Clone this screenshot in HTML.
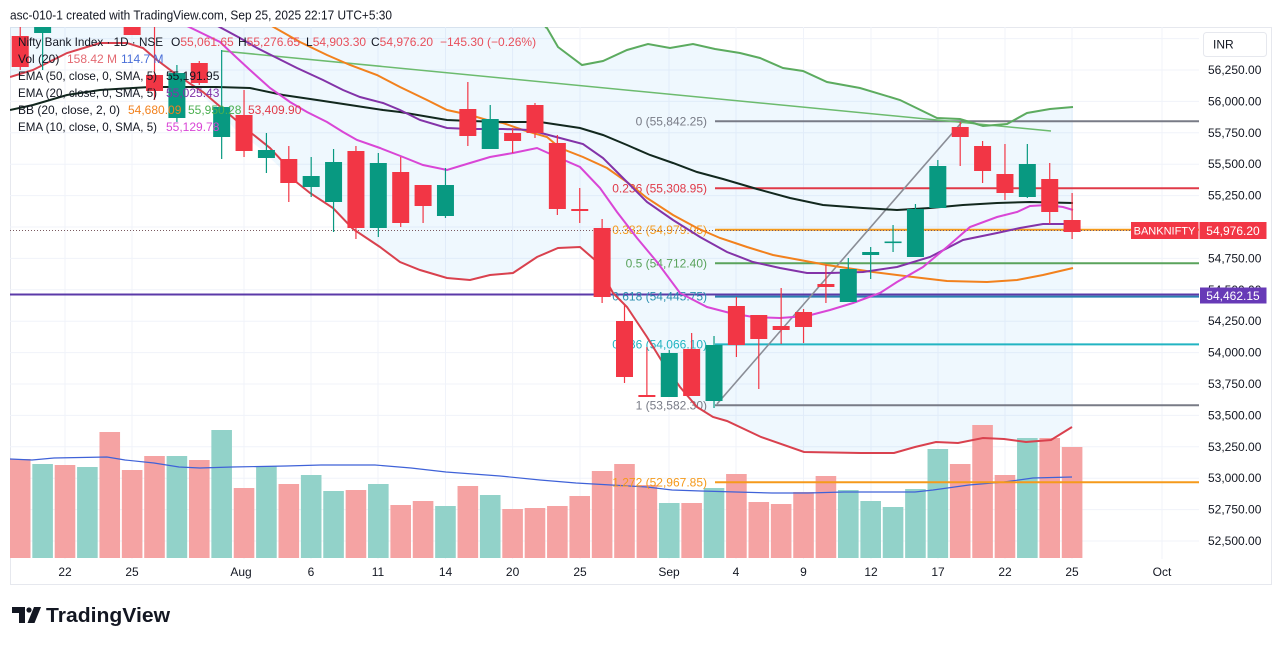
<!DOCTYPE html>
<html><head><meta charset="utf-8">
<style>
html,body{margin:0;padding:0;background:#fff;}
svg{display:block;font-family:"Liberation Sans",Arial,sans-serif;}
</style></head>
<body>
<svg width="1281" height="646" viewBox="0 0 1281 646" xmlns="http://www.w3.org/2000/svg">
<defs>
<clipPath id="plot"><rect x="10" y="27" width="1189" height="532"/></clipPath>
</defs>
<rect x="0" y="0" width="1281" height="646" fill="#fff"/>
<text x="10" y="19.5" font-size="12.5" fill="#131722" textLength="382" lengthAdjust="spacingAndGlyphs">asc-010-1 created with TradingView.com, Sep 25, 2025 22:17 UTC+5:30</text>
<rect x="10.5" y="27.5" width="1261" height="557" fill="none" stroke="#e6e8ee"/>
<g stroke="#f0f3fa" stroke-width="1">
<line x1="10" y1="38.6" x2="1199" y2="38.6"/><line x1="10" y1="70" x2="1199" y2="70"/><line x1="10" y1="101.4" x2="1199" y2="101.4"/><line x1="10" y1="132.8" x2="1199" y2="132.8"/><line x1="10" y1="164.2" x2="1199" y2="164.2"/><line x1="10" y1="195.6" x2="1199" y2="195.6"/><line x1="10" y1="227" x2="1199" y2="227"/><line x1="10" y1="258.4" x2="1199" y2="258.4"/><line x1="10" y1="289.8" x2="1199" y2="289.8"/><line x1="10" y1="321.2" x2="1199" y2="321.2"/><line x1="10" y1="352.6" x2="1199" y2="352.6"/><line x1="10" y1="384" x2="1199" y2="384"/><line x1="10" y1="415.4" x2="1199" y2="415.4"/><line x1="10" y1="446.8" x2="1199" y2="446.8"/><line x1="10" y1="478.2" x2="1199" y2="478.2"/><line x1="10" y1="509.6" x2="1199" y2="509.6"/><line x1="10" y1="541" x2="1199" y2="541"/>
<line x1="65" y1="27" x2="65" y2="559"/><line x1="132" y1="27" x2="132" y2="559"/><line x1="244" y1="27" x2="244" y2="559"/><line x1="311" y1="27" x2="311" y2="559"/><line x1="378" y1="27" x2="378" y2="559"/><line x1="445.5" y1="27" x2="445.5" y2="559"/><line x1="512.6" y1="27" x2="512.6" y2="559"/><line x1="580" y1="27" x2="580" y2="559"/><line x1="669" y1="27" x2="669" y2="559"/><line x1="736" y1="27" x2="736" y2="559"/><line x1="803.5" y1="27" x2="803.5" y2="559"/><line x1="871" y1="27" x2="871" y2="559"/><line x1="938" y1="27" x2="938" y2="559"/><line x1="1005" y1="27" x2="1005" y2="559"/><line x1="1072" y1="27" x2="1072" y2="559"/><line x1="1162" y1="27" x2="1162" y2="559"/>
</g>
<g clip-path="url(#plot)">
<polygon fill="#2196f3" fill-opacity="0.07" points="10,27 545,27 558,47 582,65 603,61 627,50 648,44 670,48 693,44 715,49 740,53 760,58 783,68 803,71 827,82 860,88 900,100 937,118 960,119 983,126 1007,124 1027,113 1050,109 1073,107 1073,427 1051,440 1026,442 1004,439 983,438 958,443 936,442 915,447 894,453 861,453 804,452 761,437 727,421 713,417 697,407 680,387 663,363 647,337 627,307 613,293 595,260 580,247 558,248 537,257 513,273 490,275 470,280 447,278 420,270 400,262 380,247 353,229 333,208 310,193 290,177 270,158 262,150 253,143 240,135 227,120 207,100 187,83 173,75 157,60 143,48 127,43 100,43 67,53 33,70 10,77"/>
<g fill="#f5a3a3">
<rect x="10" y="459" width="20.5" height="99"/><rect x="54.7" y="465" width="20.6" height="93"/><rect x="99.46" y="432" width="20.6" height="126"/><rect x="121.84" y="470" width="20.6" height="88"/><rect x="144.22" y="456" width="20.6" height="102"/><rect x="188.98" y="460" width="20.6" height="98"/><rect x="233.74" y="488" width="20.6" height="70"/><rect x="278.5" y="484" width="20.6" height="74"/><rect x="345.64" y="490" width="20.6" height="68"/><rect x="390.4" y="505" width="20.6" height="53"/><rect x="412.78" y="501" width="20.6" height="57"/><rect x="457.54" y="486" width="20.6" height="72"/><rect x="502.3" y="509" width="20.6" height="49"/><rect x="524.68" y="508" width="20.6" height="50"/><rect x="547.06" y="506" width="20.6" height="52"/><rect x="569.44" y="496" width="20.6" height="62"/><rect x="591.82" y="471" width="20.6" height="87"/><rect x="614.2" y="464" width="20.6" height="94"/><rect x="636.58" y="485" width="20.6" height="73"/><rect x="681.34" y="503" width="20.6" height="55"/><rect x="726.1" y="474" width="20.6" height="84"/><rect x="748.48" y="502" width="20.6" height="56"/><rect x="770.86" y="504" width="20.6" height="54"/><rect x="793.24" y="492" width="20.6" height="66"/><rect x="815.62" y="476" width="20.6" height="82"/><rect x="949.9" y="464" width="20.6" height="94"/><rect x="972.28" y="425" width="20.6" height="133"/><rect x="994.66" y="475" width="20.6" height="83"/><rect x="1039.42" y="438" width="20.6" height="120"/><rect x="1061.8" y="447" width="20.6" height="111"/>
</g>
<g fill="#92d2c9">
<rect x="32.32" y="464" width="20.6" height="94"/><rect x="77.08" y="467" width="20.6" height="91"/><rect x="166.6" y="456" width="20.6" height="102"/><rect x="211.36" y="430" width="20.6" height="128"/><rect x="256.12" y="466" width="20.6" height="92"/><rect x="300.88" y="475" width="20.6" height="83"/><rect x="323.26" y="491" width="20.6" height="67"/><rect x="368.02" y="484" width="20.6" height="74"/><rect x="435.16" y="506" width="20.6" height="52"/><rect x="479.92" y="495" width="20.6" height="63"/><rect x="658.96" y="503" width="20.6" height="55"/><rect x="703.72" y="488" width="20.6" height="70"/><rect x="838" y="490" width="20.6" height="68"/><rect x="860.38" y="501" width="20.6" height="57"/><rect x="882.76" y="507" width="20.6" height="51"/><rect x="905.14" y="489" width="20.6" height="69"/><rect x="927.52" y="449" width="20.6" height="109"/><rect x="1017.04" y="438" width="20.6" height="120"/>
</g>
<polyline fill="none" stroke="#3f62d8" stroke-width="1.2" points="10,459 32,460 54,458 107,457 125,460 154,463 179,467 200,468 232,467 286,466 321,465 375,465 411,468 446,472 500,476 540,480 576,483 611,485 647,487 672,490 701,491 736,492 772,493 808,493 844,492 879,492 915,492 933,490 969,485 1004,482 1033,478 1072,477"/>
<line x1="10" y1="294.5" x2="1199" y2="294.5" stroke="#5b3aa8" stroke-width="2"/>
<line x1="715" y1="121.2" x2="1199" y2="121.2" stroke="#787b86" stroke-width="2"/>
<line x1="715" y1="188.2" x2="1199" y2="188.2" stroke="#e03a48" stroke-width="2"/>
<line x1="715" y1="229.8" x2="1199" y2="229.8" stroke="#f59a1b" stroke-width="2"/>
<line x1="715" y1="263.3" x2="1199" y2="263.3" stroke="#5aa35c" stroke-width="2"/>
<line x1="715" y1="296.6" x2="1199" y2="296.6" stroke="#2b7fb0" stroke-width="2"/>
<line x1="715" y1="344.4" x2="1199" y2="344.4" stroke="#22b4c2" stroke-width="2"/>
<line x1="715" y1="405.2" x2="1199" y2="405.2" stroke="#787b86" stroke-width="2"/>
<line x1="715" y1="482.3" x2="1199" y2="482.3" stroke="#f59a1b" stroke-width="2"/>
<line x1="717" y1="404" x2="962" y2="122" stroke="#8a8d96" stroke-width="1.6"/>
<line x1="222" y1="51" x2="1051" y2="131" stroke="#6cbb6e" stroke-width="1.5"/>
<g font-size="12" text-anchor="end">
<text x="707" y="125.5" fill="#787b86">0 (55,842.25)</text>
<text x="707" y="192.5" fill="#e03a48">0.236 (55,308.95)</text>
<text x="707" y="234" fill="#f59a1b">0.382 (54,979.05)</text>
<text x="707" y="267.5" fill="#5aa35c">0.5 (54,712.40)</text>
<text x="707" y="300.5" fill="#2b8fb0">0.618 (54,445.75)</text>
<text x="707" y="348.5" fill="#22b4c2">0.786 (54,066.10)</text>
<text x="707" y="409.5" fill="#787b86">1 (53,582.30)</text>
<text x="707" y="486.5" fill="#f59a1b">1.272 (52,967.85)</text>
</g>
<line x1="10" y1="230.5" x2="1131" y2="230.5" stroke="#7a5a60" stroke-width="1" stroke-dasharray="1,2"/>
<polyline fill="none" stroke="#d9414e" stroke-width="2" points="10,77 33,70 67,53 100,43 127,43 143,48 157,60 177,75 203,92 230,115 250,132 270,148 283,162 290,177 310,193 333,208 353,229 380,247 400,262 420,270 447,278 470,280 490,275 513,273 537,257 558,248 580,247 595,260 613,293 627,307 647,337 663,363 680,387 697,407 713,417 727,421 761,437 804,452 861,453 894,453 915,447 936,442 958,443 983,438 1004,439 1026,442 1051,440 1072,427"/>
<polyline fill="none" stroke="#5cab5f" stroke-width="2" points="545,27 547,28 558,47 582,65 603,61 627,50 648,44 670,48 693,44 715,49 740,53 760,58 783,68 803,71 827,82 860,88 900,100 937,118 960,119 983,126 1007,124 1027,113 1050,109 1073,107"/>
<polyline fill="none" stroke="#f2811d" stroke-width="2" points="270,25 300,42 327,55 350,65 377,75 400,87 427,100 447,110 470,115 487,120 503,123 523,130 547,137 560,148 583,157 607,168 627,182 647,198 673,215 697,228 720,238 747,247 773,255 800,260 827,265 860,270 873,272 913,277 947,281 987,282 1017,280 1043,275 1073,268"/>
<polyline fill="none" stroke="#12281e" stroke-width="2" points="10,110 33,105 67,95 100,90 133,88 150,87 217,87 250,88 283,95 317,100 350,105 383,110 400,112 447,120 470,121 503,122 540,122 580,128 603,135 627,145 650,155 673,163 697,172 723,179 757,189 790,198 823,205 863,208 897,210 930,208 963,205 997,203 1030,202 1073,203"/>
<polyline fill="none" stroke="#8333a8" stroke-width="2" points="214,24 240,38 257,48 277,58 297,68 323,80 343,90 360,97 383,103 400,110 420,120 447,128 470,129 503,129 530,130 560,138 583,144 603,158 623,178 647,202 673,220 700,237 727,252 753,262 780,268 807,273 830,273 863,272 897,267 930,257 963,240 997,233 1020,228 1043,224 1073,224"/>
<polyline fill="none" stroke="#d946d6" stroke-width="2" points="183,24 220,42 237,58 250,70 270,88 290,102 307,112 327,122 343,132 357,140 380,148 403,157 423,165 447,170 470,163 490,157 513,153 537,148 557,157 580,167 600,188 617,212 637,238 657,262 680,293 707,307 730,313 753,317 780,318 807,316 830,310 853,303 880,293 897,282 923,267 947,247 970,227 997,217 1017,212 1030,206 1047,205 1063,207 1073,210"/>
<g stroke="#f23645" stroke-width="1.2">
<line x1="20.24" y1="27" x2="20.24" y2="70"/><line x1="132.14" y1="27" x2="132.14" y2="35"/><line x1="154.52" y1="27" x2="154.52" y2="100"/><line x1="199.28" y1="61" x2="199.28" y2="85"/><line x1="244.04" y1="90" x2="244.04" y2="157"/><line x1="288.8" y1="146" x2="288.8" y2="202"/><line x1="355.94" y1="146" x2="355.94" y2="239"/><line x1="400.7" y1="157" x2="400.7" y2="227"/><line x1="423.08" y1="185" x2="423.08" y2="223"/><line x1="467.84" y1="82" x2="467.84" y2="146"/><line x1="512.6" y1="128" x2="512.6" y2="153"/><line x1="534.98" y1="103" x2="534.98" y2="138"/><line x1="557.36" y1="135" x2="557.36" y2="215"/><line x1="579.74" y1="188" x2="579.74" y2="223"/><line x1="602.12" y1="219" x2="602.12" y2="303"/><line x1="624.5" y1="305" x2="624.5" y2="383"/><line x1="646.88" y1="347" x2="646.88" y2="397"/><line x1="691.64" y1="333" x2="691.64" y2="396"/><line x1="736.4" y1="297" x2="736.4" y2="357"/><line x1="758.78" y1="315" x2="758.78" y2="389"/><line x1="781.16" y1="288" x2="781.16" y2="344"/><line x1="803.54" y1="309" x2="803.54" y2="343"/><line x1="825.92" y1="265" x2="825.92" y2="303"/><line x1="960.2" y1="122" x2="960.2" y2="166"/><line x1="982.58" y1="141" x2="982.58" y2="183"/><line x1="1004.96" y1="144" x2="1004.96" y2="200"/><line x1="1049.72" y1="163" x2="1049.72" y2="224"/><line x1="1072.1" y1="193" x2="1072.1" y2="239"/>
</g>
<g fill="#f23645">
<rect x="11.74" y="36" width="17" height="31"/><rect x="123.64" y="27" width="17" height="8"/><rect x="146.02" y="75" width="17" height="16"/><rect x="190.78" y="63" width="17" height="20"/><rect x="235.54" y="115" width="17" height="36"/><rect x="280.3" y="159" width="17" height="24"/><rect x="347.44" y="151" width="17" height="77"/><rect x="392.2" y="172" width="17" height="51"/><rect x="414.58" y="185" width="17" height="21"/><rect x="459.34" y="109" width="17" height="27"/><rect x="504.1" y="133" width="17" height="8"/><rect x="526.48" y="105" width="17" height="28"/><rect x="548.86" y="143" width="17" height="66"/><rect x="571.24" y="209" width="17" height="2"/><rect x="593.62" y="228" width="17" height="69"/><rect x="616" y="321" width="17" height="56"/><rect x="638.38" y="395" width="17" height="2"/><rect x="683.14" y="349" width="17" height="47"/><rect x="727.9" y="306" width="17" height="39"/><rect x="750.28" y="315" width="17" height="24"/><rect x="772.66" y="326" width="17" height="4"/><rect x="795.04" y="312" width="17" height="15"/><rect x="817.42" y="284" width="17" height="3"/><rect x="951.7" y="127" width="17" height="10"/><rect x="974.08" y="146" width="17" height="25"/><rect x="996.46" y="174" width="17" height="19"/><rect x="1041.22" y="179" width="17" height="33"/><rect x="1063.6" y="220" width="17" height="12"/>
</g>
<g stroke="#089981" stroke-width="1.2">
<line x1="42.62" y1="27" x2="42.62" y2="70"/><line x1="176.9" y1="65" x2="176.9" y2="122"/><line x1="221.66" y1="50" x2="221.66" y2="159"/><line x1="266.42" y1="133" x2="266.42" y2="173"/><line x1="311.18" y1="157" x2="311.18" y2="197"/><line x1="333.56" y1="149" x2="333.56" y2="232"/><line x1="378.32" y1="153" x2="378.32" y2="237"/><line x1="445.46" y1="168" x2="445.46" y2="218"/><line x1="490.22" y1="105" x2="490.22" y2="149"/><line x1="669.26" y1="350" x2="669.26" y2="397"/><line x1="714.02" y1="336" x2="714.02" y2="408"/><line x1="848.3" y1="258" x2="848.3" y2="302"/><line x1="870.68" y1="247" x2="870.68" y2="279"/><line x1="893.06" y1="225" x2="893.06" y2="252"/><line x1="915.44" y1="204" x2="915.44" y2="257"/><line x1="937.82" y1="160" x2="937.82" y2="208"/><line x1="1027.34" y1="144" x2="1027.34" y2="198"/>
</g>
<g fill="#089981">
<rect x="34.12" y="27" width="17" height="6"/><rect x="168.4" y="73" width="17" height="45"/><rect x="213.16" y="107" width="17" height="30"/><rect x="257.92" y="150" width="17" height="8"/><rect x="302.68" y="176" width="17" height="11"/><rect x="325.06" y="162" width="17" height="40"/><rect x="369.82" y="163" width="17" height="65"/><rect x="436.96" y="185" width="17" height="31"/><rect x="481.72" y="119" width="17" height="30"/><rect x="660.76" y="353" width="17" height="44"/><rect x="705.52" y="345" width="17" height="56"/><rect x="839.8" y="269" width="17" height="33"/><rect x="862.18" y="252" width="17" height="3"/><rect x="884.56" y="241.5" width="17" height="1.6"/><rect x="906.94" y="209" width="17" height="48"/><rect x="929.32" y="166" width="17" height="42"/><rect x="1018.84" y="164" width="17" height="33"/>
</g>
</g>
<g font-size="12" fill="#131722">
<text x="18" y="46" textLength="145" lengthAdjust="spacingAndGlyphs">Nifty Bank Index · 1D · NSE</text>
<text x="171" y="46">O<tspan fill="#e8505c">55,061.65</tspan></text>
<text x="238" y="46">H<tspan fill="#e8505c">55,276.65</tspan></text>
<text x="306" y="46">L<tspan fill="#e8505c">54,903.30</tspan></text>
<text x="371" y="46">C<tspan fill="#e8505c">54,976.20</tspan></text>
<text x="440" y="46" fill="#e8505c">−145.30 (−0.26%)</text>
<text x="18" y="63">Vol (20)</text>
<text x="67" y="63" fill="#e46a72">158.42 M</text>
<text x="121" y="63" fill="#4a6fd8">114.7 M</text>
<text x="18" y="80" textLength="139" lengthAdjust="spacingAndGlyphs">EMA (50, close, 0, SMA, 5)</text>
<text x="166" y="80" fill="#131722">55,191.95</text>
<text x="18" y="97" textLength="139" lengthAdjust="spacingAndGlyphs">EMA (20, close, 0, SMA, 5)</text>
<text x="166" y="97" fill="#8333a8">55,025.43</text>
<text x="18" y="114" textLength="102" lengthAdjust="spacingAndGlyphs">BB (20, close, 2, 0)</text>
<text x="128" y="114" fill="#f2811d">54,680.09</text>
<text x="188" y="114" fill="#4caf50">55,950.28</text>
<text x="248" y="114" fill="#e03a48">53,409.90</text>
<text x="18" y="131" textLength="139" lengthAdjust="spacingAndGlyphs">EMA (10, close, 0, SMA, 5)</text>
<text x="166" y="131" fill="#d946d6">55,129.78</text>
</g>
<rect x="1203.5" y="32.5" width="63" height="24" rx="3" fill="#fff" stroke="#e6e8ee"/>
<text x="1213" y="48.5" font-size="12" fill="#131722">INR</text>
<g font-size="12" fill="#131722">
<text x="1208" y="74">56,250.00</text><text x="1208" y="105.4">56,000.00</text><text x="1208" y="136.8">55,750.00</text><text x="1208" y="168.2">55,500.00</text><text x="1208" y="199.6">55,250.00</text><text x="1208" y="231">55,000.00</text><text x="1208" y="262.4">54,750.00</text><text x="1208" y="293.8">54,500.00</text><text x="1208" y="325.2">54,250.00</text><text x="1208" y="356.6">54,000.00</text><text x="1208" y="388">53,750.00</text><text x="1208" y="419.4">53,500.00</text><text x="1208" y="450.8">53,250.00</text><text x="1208" y="482.2">53,000.00</text><text x="1208" y="513.6">52,750.00</text><text x="1208" y="545">52,500.00</text>
</g>
<rect x="1131" y="222" width="67.5" height="17" fill="#f23645"/>
<text x="1164.5" y="234.5" font-size="11" fill="#fff" text-anchor="middle">BANKNIFTY</text>
<rect x="1199.5" y="222" width="67" height="17" fill="#f23645"/>
<text x="1233" y="235" font-size="12" fill="#fff" text-anchor="middle">54,976.20</text>
<rect x="1200" y="287.5" width="66.5" height="16" fill="#673ab7"/>
<text x="1233" y="300" font-size="12" fill="#fff" text-anchor="middle">54,462.15</text>
<g font-size="12" fill="#131722" text-anchor="middle">
<text x="65" y="576">22</text><text x="132" y="576">25</text><text x="241" y="576">Aug</text><text x="311" y="576">6</text><text x="378" y="576">11</text><text x="445.5" y="576">14</text><text x="512.6" y="576">20</text><text x="580" y="576">25</text><text x="669" y="576">Sep</text><text x="736" y="576">4</text><text x="803.5" y="576">9</text><text x="871" y="576">12</text><text x="938" y="576">17</text><text x="1005" y="576">22</text><text x="1072" y="576">25</text><text x="1162" y="576">Oct</text>
</g>
<g fill="#131722">
<path d="M12 607 H25 V623 H19 V613 H12 Z"/>
<circle cx="29" cy="610" r="2.6"/>
<path d="M34 607 H41 L34.5 623 H27.5 Z"/>
</g>
<text x="46" y="622" font-size="20" font-weight="bold" fill="#131722" textLength="124" lengthAdjust="spacingAndGlyphs">TradingView</text>
</svg>
</body></html>
